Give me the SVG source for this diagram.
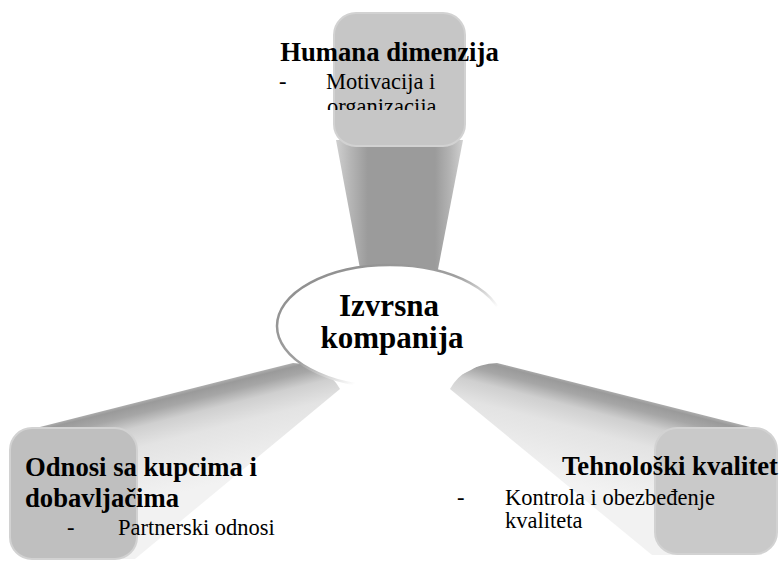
<svg xmlns="http://www.w3.org/2000/svg" width="781" height="561" viewBox="0 0 781 561">
<style>
.t{font-family:"Liberation Serif","Times New Roman",serif;fill:#000}
.h{font-size:26.67px;font-weight:bold}
.b{font-size:22.5px}
.c{font-size:31px;font-weight:bold}
.box{stroke:#d2d2d2;stroke-width:2}
</style>
<defs>
<linearGradient id="gTop" x1="0" y1="0" x2="1" y2="0">
<stop offset="0" stop-color="#cfcfcf"/>
<stop offset="0.12" stop-color="#b4b4b4"/>
<stop offset="0.25" stop-color="#9b9b9b"/>
<stop offset="0.78" stop-color="#9b9b9b"/>
<stop offset="0.9" stop-color="#b4b4b4"/>
<stop offset="1" stop-color="#d0d0d0"/>
</linearGradient>
<linearGradient id="gLeft" gradientUnits="userSpaceOnUse" x1="200" y1="386" x2="224" y2="482">
<stop offset="0" stop-color="#b0b0b0"/>
<stop offset="0.04" stop-color="#9a9a9a"/>
<stop offset="0.12" stop-color="#a6a6a6"/>
<stop offset="0.25" stop-color="#cfcfcf"/>
<stop offset="0.45" stop-color="#e3e3e3"/>
<stop offset="1" stop-color="#f2f2f2"/>
</linearGradient>
<linearGradient id="gRight" gradientUnits="userSpaceOnUse" x1="600" y1="388" x2="575" y2="485">
<stop offset="0" stop-color="#b0b0b0"/>
<stop offset="0.04" stop-color="#9a9a9a"/>
<stop offset="0.12" stop-color="#a6a6a6"/>
<stop offset="0.25" stop-color="#cfcfcf"/>
<stop offset="0.45" stop-color="#e3e3e3"/>
<stop offset="1" stop-color="#f2f2f2"/>
</linearGradient>
<linearGradient id="gEll" x1="0" y1="0" x2="1" y2="1">
<stop offset="0" stop-color="#8a8a8a"/>
<stop offset="0.45" stop-color="#a0a0a0"/>
<stop offset="0.66" stop-color="#ffffff"/>
</linearGradient>
<clipPath id="clipTop"><rect x="0" y="0" width="781" height="110"/></clipPath>
</defs>
<g id="connectors">
<polygon points="336,140 463,140 434,290 364,290" fill="url(#gTop)"/>
<path d="M28,430 L293,363 Q327,365 340,389 L135,559 L28,559 Z" fill="url(#gLeft)"/>
<path d="M762,430 L497,363 Q463,365 450,389 L652,555 L762,555 Z" fill="url(#gRight)"/>
</g>
<g id="node-top">
<rect class="box" x="334" y="13" width="131" height="133" rx="22" fill="#c6c6c6"/>
<text class="t h" x="389.5" y="61" text-anchor="middle">Humana dimenzija</text>
<text class="t b" x="279" y="89">-</text>
<g clip-path="url(#clipTop)">
<text class="t b" x="326" y="89">Motivacija i</text>
<text class="t b" x="327" y="114">organizacija</text>
</g>
</g>
<g id="node-left">
<rect class="box" x="10" y="428" width="127" height="131" rx="22" fill="#bfbfbf"/>
<text class="t h" x="25" y="476">Odnosi sa kupcima i</text>
<text class="t h" x="25" y="507">dobavljačima</text>
<text class="t b" x="67" y="535">-</text>
<text class="t b" x="118" y="535">Partnerski odnosi</text>
</g>
<g id="node-right">
<rect class="box" x="655" y="428" width="122" height="126" rx="22" fill="#c9c9c9"/>
<text class="t h" x="778" y="475" text-anchor="end">Tehnološki kvalitet</text>
<text class="t b" x="457" y="505">-</text>
<text class="t b" x="505" y="505">Kontrola i obezbeđenje</text>
<text class="t b" x="505" y="528">kvaliteta</text>
</g>
<g id="node-center">
<ellipse cx="390" cy="326" rx="113" ry="61" fill="#ffffff" stroke="url(#gEll)" stroke-width="2.5"/>
<text class="t c" x="389" y="316" text-anchor="middle">Izvrsna</text>
<text class="t c" x="392" y="348" text-anchor="middle">kompanija</text>
</g>
</svg>
